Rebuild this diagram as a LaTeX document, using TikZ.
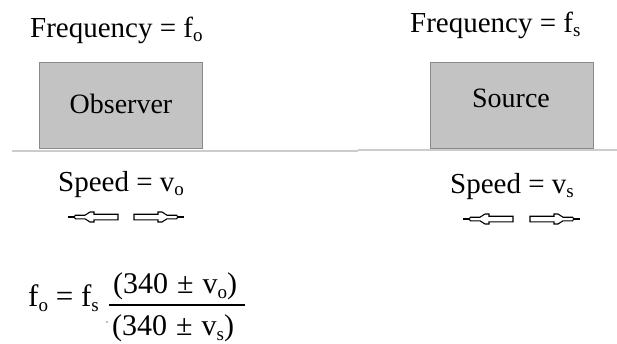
\documentclass[tikz,border=0pt]{standalone}
\usepackage{fontspec}
\setmainfont{Liberation Serif}
\newcommand{\sbsc}[1]{\raisebox{-0.17em}{\fontsize{19}{19}\selectfont #1}}
\definecolor{boxfill}{HTML}{C3C3C3}
\definecolor{boxedge}{HTML}{8A8A8A}
\definecolor{groundcol}{HTML}{CCCCCC}
\tikzset{
  lbl/.style={inner sep=0pt, font=\fontsize{29}{29}\selectfont, anchor=base west},
  clbl/.style={inner sep=0pt, font=\fontsize{28}{28}\selectfont, anchor=base},
  boxstyle/.style={draw=boxedge, fill=boxfill, line width=1.3pt, inner sep=0pt,
    minimum width=163pt, minimum height=86pt, anchor=north west},
  ground/.style={draw=groundcol, line width=1.8pt},
  hollowarrow/.pic={
    \draw[line width=1.8pt] (0,0) -- (8,0);
    \draw[fill=white, line width=1.1pt] (6,0) -- (7.5,-1.8) -- (17,-1.8) -- (22,-5)
      -- (26,-5) -- (26,-2.8) -- (50,-2.8) -- (50,2.8) -- (26,2.8) -- (26,5)
      -- (22,5) -- (17,1.8) -- (7.5,1.8) -- cycle;
  }
}
\begin{document}
\begin{tikzpicture}[x=1pt,y=-1pt]
\useasboundingbox (0,0) rectangle (617,343);
% titles
\node[lbl] (fo) at (30,37) {Frequency = f\sbsc{o}};
\node[lbl] (fs) at (410,32) {Frequency = f\sbsc{s}};
% boxes
\node[boxstyle] (obs) at (39,62) {};
\node[boxstyle] (src) at (430,62) {};
\node[clbl] (obstxt) at (121,113) {Observer};
\node[clbl] (srctxt) at (511,107) {Source};
% ground line
\coordinate (g1) at (12,151);
\coordinate (g2) at (358,151);
\coordinate (g3) at (358,150);
\coordinate (g4) at (617,150);
\draw[ground] (g1) -- (g2);
\draw[ground] (g3) -- (g4);
% speeds
\node[lbl] (vo) at (58,191) {Speed = v\sbsc{o}};
\node[lbl] (vs) at (450,193) {Speed = v\sbsc{s}};
% arrows
\pic at (68,217) {hollowarrow};
\pic[xscale=-1] at (184,217) {hollowarrow};
\pic at (463,219) {hollowarrow};
\pic[xscale=-1] at (580,219) {hollowarrow};
% formula
\node[lbl, font=\fontsize{31}{31}\selectfont] (feq) at (28,306) {f\sbsc{o}\hspace{0.25em}=\hspace{0.25em}f\sbsc{s}};
\node[lbl, font=\fontsize{30}{30}\selectfont] (num) at (113,293) {(340\hspace{0.3em}±\hspace{0.3em}v\sbsc{o})};
\node[lbl, font=\fontsize{30}{30}\selectfont] (den) at (112,335) {(340\hspace{0.3em}±\hspace{0.3em}v\sbsc{s})};
\coordinate (b1) at (109,305);
\coordinate (b2) at (245,305);
\draw[line width=1.2pt] (b1) -- (b2);
\fill[gray] (107,322) circle (0.8pt);
\end{tikzpicture}
\end{document}
